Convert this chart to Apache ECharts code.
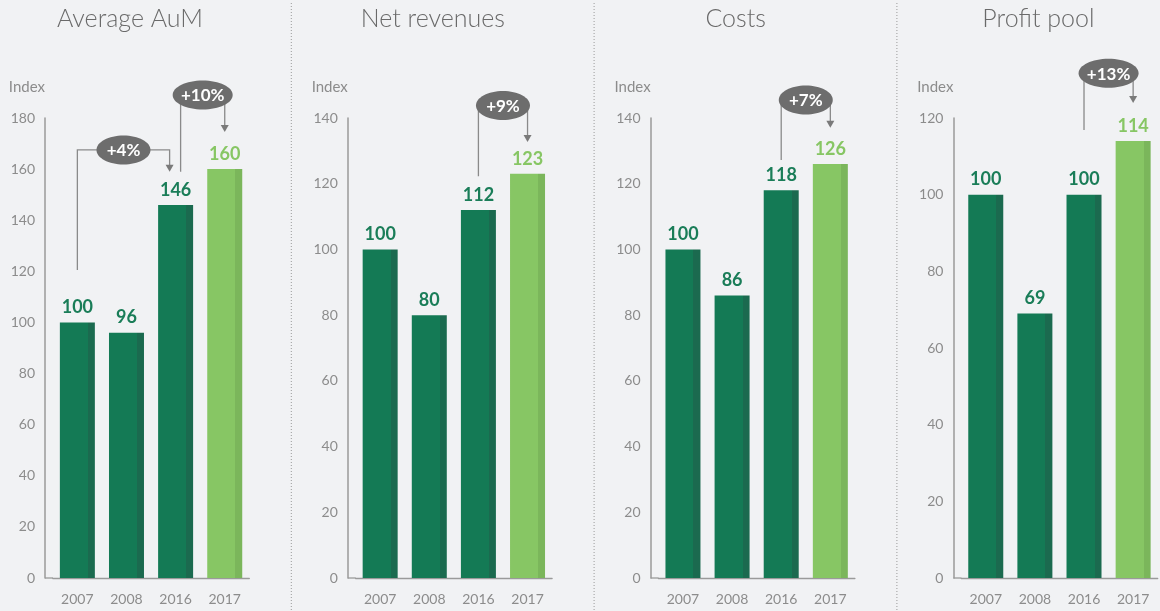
<!DOCTYPE html>
<html>
<head>
<meta charset="utf-8">
<script src="https://cdn.jsdelivr.net/npm/echarts@6/dist/echarts.min.js"></script>
<style>
  html, body { margin: 0; padding: 0; background: #f1f2f4; }
  #main { width: 1160px; height: 611px; }
</style>
</head>
<body>
<div id="main"></div>
<script>
// data
var years = ['2007', '2008', '2016', '2017'];
var panelTitles = ['Average AuM', 'Net revenues', 'Costs', 'Profit pool'];
var aumValues = [100, 96, 146, 160];
var revenueValues = [100, 80, 112, 123];
var costValues = [100, 86, 118, 126];
var profitValues = [100, 69, 100, 114];
var axisMax = [180, 140, 140, 120];
var tickStep = 20;
// annotations: [fromIndex, toIndex, startValue, arrowValue, levelValue, label]
var aumNotes = [[0, 2, 120.5, 159, 167.5, '+4%'], [2, 3, 159, 174.5, 189, '+10%']];
var revenueNotes = [[2, 3, 122.3, 132.7, 143.8, '+9%']];
var costNotes = [[2, 3, 127.2, 137, 145.5, '+7%']];
var profitNotes = [[2, 3, 116.9, 123.9, 131.7, '+13%']];

var allValues = [aumValues, revenueValues, costValues, profitValues];
var allNotes = [aumNotes, revenueNotes, costNotes, profitNotes];

var dark = '#147a55', darkEdge = '#1b6a4f';
var light = '#87c664', lightEdge = '#7bb65b';
var greyText = '#8c8c8c';
var font = 'Lato, "Open Sans", sans-serif';

function barFill(c, edge) {
    return new echarts.graphic.LinearGradient(0, 0, 1, 0, [
        {offset: 0, color: c}, {offset: 0.8, color: c},
        {offset: 0.8, color: edge}, {offset: 1, color: edge}
    ]);
}

function noteRenderer(list) {
    return function (params, api) {
        var a = list[params.dataIndex];
        var from = api.value(0), to = api.value(1);
        var ps = api.coord([from, api.value(2)]);
        var pl = api.coord([from, api.value(4)]);
        var pe = api.coord([to, api.value(3)]);
        // shift ends when a bar is shared by two notes
        var sx = ps[0] + (list.some(function (b) { return b[1] === from; }) ? 5 : 0);
        var ex = pe[0] - (list.some(function (b) { return b[0] === to; }) ? 6 : 0);
        var ly = pl[1], ty = pe[1];
        var cx = (sx + ex) / 2;
        return {
            type: 'group',
            children: [{
                type: 'polyline',
                shape: {points: [[sx, ps[1]], [sx, ly], [ex, ly], [ex, ty - 6]]},
                style: {stroke: '#8a8a8a', lineWidth: 1.3, fill: null}
            }, {
                type: 'polygon',
                shape: {points: [[ex - 4, ty - 7], [ex + 4, ty - 7], [ex, ty]]},
                style: {fill: '#7a7a7a'}
            }, {
                type: 'ellipse',
                shape: {cx: cx, cy: ly, rx: a[5].length > 3 ? 30 : 27, ry: 14.5},
                style: {fill: '#6d6d6d'}
            }, {
                type: 'text',
                style: {
                    text: a[5], x: cx, y: ly + 1, align: 'center', verticalAlign: 'middle',
                    textAlign: 'center', textVerticalAlign: 'middle',
                    fill: '#ffffff', font: 'bold 17px ' + font
                }
            }]
        };
    };
}

var grids = [], xAxes = [], yAxes = [], series = [], graphics = [];
for (var i = 0; i < 4; i++) {
    var axisX = 45 + i * 302.8;
    grids.push({left: axisX + 7.8, top: 118, width: 196.5, height: 460});
    xAxes.push({
        type: 'category', gridIndex: i, data: years,
        axisLine: {lineStyle: {color: '#9a9a9a', width: 1.3}},
        axisTick: {show: false},
        axisLabel: {color: greyText, fontSize: 14, fontFamily: font, margin: 14}
    });
    yAxes.push({
        type: 'value', gridIndex: i, min: 0, max: axisMax[i], interval: tickStep,
        offset: 7.8,
        name: 'Index', nameLocation: 'end', nameGap: 23,
        nameTextStyle: {color: greyText, fontSize: 15, fontFamily: font, align: 'right'},
        axisLine: {show: true, lineStyle: {color: '#9a9a9a', width: 1.5}},
        axisTick: {show: false},
        splitLine: {show: false},
        axisLabel: {color: greyText, fontSize: 14, fontFamily: font, margin: 10}
    });
    series.push({
        type: 'bar', xAxisIndex: i, yAxisIndex: i, barWidth: 35,
        data: allValues[i].map(function (v, k) {
            var last = k === years.length - 1;
            return {
                value: v,
                itemStyle: {color: last ? barFill(light, lightEdge) : barFill(dark, darkEdge)},
                label: {color: last ? light : '#1a7d58'}
            };
        }),
        label: {show: true, position: 'top', distance: 6, fontSize: 18, fontWeight: 'bold', fontFamily: font},
        silent: true
    });
    series.push({
        type: 'custom', xAxisIndex: i, yAxisIndex: i, coordinateSystem: 'cartesian2d',
        clip: false, silent: true, z: 5,
        encode: {x: [0, 1], y: [2, 3, 4]},
        renderItem: noteRenderer(allNotes[i]),
        data: allNotes[i].map(function (a) { return a.slice(0, 5); })
    });
    // title
    graphics.push({
        type: 'text', x: axisX + 85, y: 19,
        style: {
            text: panelTitles[i], align: 'center', verticalAlign: 'middle',
            textAlign: 'center', textVerticalAlign: 'middle',
            fill: '#6a6a6a', font: '300 25px ' + font
        }
    });
    // close the gap between the y axis and the x axis line
    graphics.push({
        type: 'line', shape: {x1: axisX, y1: 578, x2: axisX + 8, y2: 578},
        style: {stroke: '#9a9a9a', lineWidth: 1.3}
    });
    if (i > 0) {
        var sepX = axisX - 56.5;
        graphics.push({
            type: 'line', shape: {x1: sepX, y1: 3, x2: sepX, y2: 611},
            style: {stroke: '#9a9a9a', lineWidth: 1, lineDash: [1, 2]}
        });
    }
}

var myChart = echarts.init(document.getElementById('main'));
var option = {
    backgroundColor: '#f1f2f4',
    animation: false,
    grid: grids,
    xAxis: xAxes,
    yAxis: yAxes,
    series: series,
    graphic: graphics
};
myChart.setOption(option);
</script>
</body>
</html>
